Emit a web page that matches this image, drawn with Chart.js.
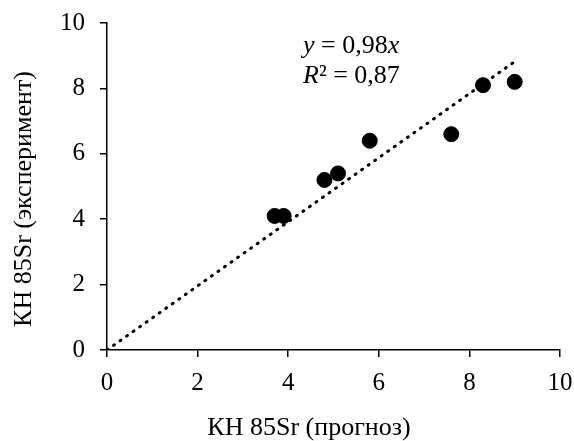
<!DOCTYPE html>
<html>
<head>
<meta charset="utf-8">
<script src="https://cdn.jsdelivr.net/npm/chart.js@4.4.0/dist/chart.umd.min.js"></script>
<style>
  html, body { margin: 0; padding: 0; background: #fff; }
  #wrap { width: 574px; height: 441px; position: relative; }
</style>
</head>
<body>
<div id="wrap"><canvas id="chart"></canvas></div>
<script>
// measured points: forecast (x) vs experiment (y)
const predicted = [3.7, 3.9, 4.8, 5.1, 5.8, 7.6, 8.3, 9.0];
const measured  = [4.1, 4.1, 5.2, 5.4, 6.4, 6.6, 8.1, 8.2];

// linear trend through origin, y = 0,98x
const trendX = [0, 9];
const trendY = [0, 8.82];

const xTicks = [0, 2, 4, 6, 8, 10];
const yTicks = [0, 2, 4, 6, 8, 10];

const xTitle = 'КН 85Sr (прогноз)';
const yTitle = 'КН 85Sr (эксперимент)';

const FONT = "'Liberation Serif', 'Times New Roman', serif";

// regression label and axis titles (placed like Excel does, not centred on the plot)
const textPlugin = {
  id: 'texts',
  afterDraw(chart) {
    const ctx = chart.ctx;
    const area = chart.chartArea;
    ctx.save();
    ctx.fillStyle = '#000';
    ctx.textBaseline = 'alphabetic';
    ctx.textAlign = 'left';
    const x = 303;
    const lines = [
      [[['y', true], [' = 0,98', false], ['x', true]], area.top + 30],
      [[['R', true], ['² = 0,87', false]], area.top + 60]
    ];
    lines.forEach(([parts, yy]) => {
      let cx = x;
      parts.forEach(([t, it]) => {
        ctx.font = (it ? 'italic ' : '') + '26px ' + FONT;
        ctx.fillText(t, cx, yy);
        cx += ctx.measureText(t).width;
      });
    });
    ctx.font = '26px ' + FONT;
    ctx.textAlign = 'center';
    ctx.fillText(xTitle, 309, 435);

    ctx.translate(22, 199);
    ctx.rotate(-Math.PI / 2);
    ctx.fillText(yTitle, 0, 9);
    ctx.restore();
  }
};

const axisCommon = {
  type: 'linear',
  min: 0,
  max: 10,
  grid: {
    drawOnChartArea: false,
    drawTicks: true,
    tickLength: 7,
    color: '#000',
    lineWidth: 1.5
  },
  border: { color: '#000', width: 1.5 }
};

new Chart(document.getElementById('chart'), {
  type: 'scatter',
  data: {
    datasets: [
      {
        data: predicted.map((v, i) => ({ x: v, y: measured[i] })),
        backgroundColor: '#000',
        borderColor: '#000',
        pointRadius: 7.5,
        pointHoverRadius: 7.5
      },
      {
        type: 'line',
        data: trendX.map((v, i) => ({ x: v, y: trendY[i] })),
        borderColor: '#000',
        borderWidth: 3,
        borderDash: [1, 7],
        borderCapStyle: 'round',
        pointRadius: 0,
        fill: false
      }
    ]
  },
  options: {
    responsive: true,
    maintainAspectRatio: false,
    animation: false,
    layout: { padding: { top: 23, right: 14, left: 0, bottom: 0 } },
    plugins: {
      legend: { display: false },
      tooltip: { enabled: false }
    },
    scales: {
      x: {
        ...axisCommon,
        position: 'bottom',
        afterBuildTicks: s => { s.ticks = xTicks.map(v => ({ value: v })); },
        afterFit: s => {
          s.height = 91;
          s.paddingLeft = 0;
          s.paddingRight = 0;
        },
        ticks: {
          color: '#000',
          padding: 11,
          maxRotation: 0,
          font: { family: FONT, size: 25 }
        }
      },
      y: {
        ...axisCommon,
        afterBuildTicks: s => { s.ticks = yTicks.map(v => ({ value: v })); },
        afterFit: s => {
          s.width = 107;
          s.paddingTop = 0;
          s.paddingBottom = 0;
        },
        ticks: {
          color: '#000',
          padding: 15,
          font: { family: FONT, size: 25 }
        }
      }
    }
  },
  plugins: [textPlugin]
});
</script>
</body>
</html>
